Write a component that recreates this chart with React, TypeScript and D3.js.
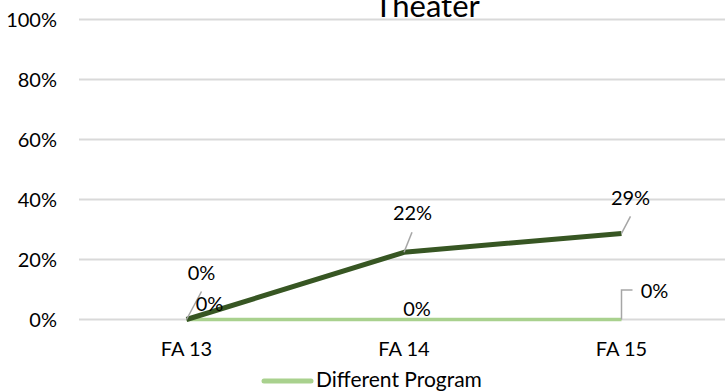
import React from "react";
import * as d3 from "d3";

const categories = ["FA 13", "FA 14", "FA 15"];
const mainSeries = [0, 22.4, 28.7];
const differentProgram = [0, 0, 0];
const yTicks = [0, 20, 40, 60, 80, 100];
const title = "Theater";
const legendLabel = "Different Program";

const W = 725;
const H = 392;
const FONT = "Lato, 'Open Sans', sans-serif";
const FS = 20;

// label offsets relative to the data point (styling only)
const mainLabelOffsets = [
  { tx: 23, ty: -9, lx: 15, ly: -28 },
  { tx: 8.5, ty: -32, lx: 8, ly: -20 },
  { tx: 9, ty: -28, lx: 9, ly: -17 },
];
const diffLabelOffsets = [
  { tx: 15, ty: -40, elbow: false },
  { tx: 13, ty: -3.5, elbow: false },
  { tx: 33, ty: -21.5, elbow: true },
];

export default function App() {
  const x = d3.scalePoint<string>().domain(categories).range([186.5, 621.5]);
  const y = d3.scaleLinear().domain([0, 100]).range([319.5, 19.5]);
  const line = d3
    .line<number>()
    .x((_, i) => x(categories[i]) as number)
    .y((d) => y(d));

  return (
    <svg width={W} height={H} style={{ position: "absolute", left: 0, top: 0 }}>
      <rect width={W} height={H} fill="#fff" />
      {yTicks.map((t) => (
        <g key={t}>
          <line x1={79} x2={W} y1={y(t)} y2={y(t)} stroke="#d9d9d9" strokeWidth={2} />
          <text x={57} y={y(t) + 7} textAnchor="end" fontFamily={FONT} fontSize={FS} fill="#000">
            {t}%
          </text>
        </g>
      ))}
      <text x={427} y={17} textAnchor="middle" fontFamily={FONT} fontSize={31} fill="#000">
        {title}
      </text>
      {categories.map((c) => (
        <text key={c} x={x(c)} y={356} textAnchor="middle" fontFamily={FONT} fontSize={FS} fill="#000">
          {c}
        </text>
      ))}
      <path d={line(differentProgram) || ""} fill="none" stroke="#a9d18e" strokeWidth={3.5} />
      <path d={line(mainSeries) || ""} fill="none" stroke="#375623" strokeWidth={5} strokeLinejoin="round" />
      {mainSeries.map((v, i) => {
        const px = x(categories[i]) as number;
        const py = y(v);
        const o = mainLabelOffsets[i];
        return (
          <g key={"m" + i}>
            <line x1={px} y1={py} x2={px + o.lx} y2={py + o.ly} stroke="#a6a6a6" strokeWidth={1.5} />
            <text x={px + o.tx} y={py + o.ty} textAnchor="middle" fontFamily={FONT} fontSize={FS} fill="#000">
              {Math.round(v)}%
            </text>
          </g>
        );
      })}
      {differentProgram.map((v, i) => {
        const px = x(categories[i]) as number;
        const py = y(v);
        const o = diffLabelOffsets[i];
        return (
          <g key={"d" + i}>
            {o.elbow && (
              <polyline
                points={`${px},${py} ${px},${py - 29.5} ${px + 11},${py - 29.5}`}
                fill="none"
                stroke="#a6a6a6"
                strokeWidth={1.5}
              />
            )}
            <text x={px + o.tx} y={py + o.ty} textAnchor="middle" fontFamily={FONT} fontSize={FS} fill="#000">
              {Math.round(v)}%
            </text>
          </g>
        );
      })}
      <line x1={264} x2={311} y1={381} y2={381} stroke="#a9d18e" strokeWidth={5} strokeLinecap="round" />
      <text x={316} y={387} fontFamily={FONT} fontSize={21} fill="#000">
        {legendLabel}
      </text>
    </svg>
  );
}
